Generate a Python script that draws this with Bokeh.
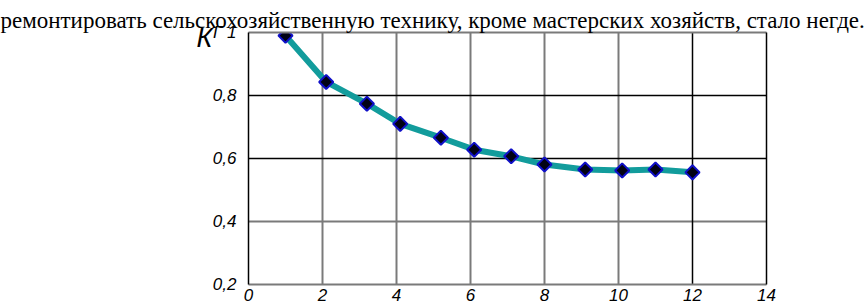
import math
from bokeh.plotting import figure
from bokeh.models import Range1d, FixedTicker, Grid, LinearAxis, Title
from bokeh.embed import file_html
from bokeh.resources import INLINE

# ---- data ----
sentence = "ремонтировать сельскохозяйственную технику, кроме мастерских хозяйств, стало негде."
y_symbol = "К"
y_subscript = "Г"
y_symbol_pos = 0.984
x_vals = [1, 2.1, 3.2, 4.1, 5.2, 6.1, 7.1, 8, 9.1, 10.1, 11, 12]
k_vals = [0.99, 0.843, 0.774, 0.71, 0.666, 0.628, 0.607, 0.581, 0.565, 0.562, 0.565, 0.556]
x_ticks = [0, 2, 4, 6, 8, 10, 12, 14]
x_tick_labels = ["0", "2", "4", "6", "8", "10", "12", "14"]
y_ticks = [0.2, 0.4, 0.6, 0.8, 1.0]
y_tick_labels = ["0,2", "0,4", "0,6", "0,8", "1"]
x_grid_gray = [2, 4, 6, 8, 10]
x_grid_black = [12]
y_grid_gray = [0.4]
y_grid_black = [0.6, 0.8]

p = figure(width=867, height=303, output_backend="svg", toolbar_location=None,
           x_range=Range1d(0, 14), y_range=Range1d(0.2, 1.0),
           min_border_left=248, min_border_right=101, min_border_top=32, min_border_bottom=0)
p.outline_line_color = None
p.background_fill_color = "white"
p.border_fill_color = "white"

p.title = Title(text=sentence, align="left", offset=-248, standoff=0,
                text_font="Liberation Serif", text_font_size="23px",
                text_font_style="normal", text_color="black")

# axes
p.xaxis.ticker = FixedTicker(ticks=x_ticks)
p.xaxis.major_label_overrides = {t: s for t, s in zip(x_ticks, x_tick_labels)}
p.yaxis.ticker = FixedTicker(ticks=y_ticks)
y_over = {t: s for t, s in zip(y_ticks, y_tick_labels)}
y_over[y_ticks[-1]] = y_subscript + " " + y_tick_labels[-1]
p.yaxis.major_label_overrides = y_over
for ax in (p.xaxis[0], p.yaxis[0]):
    ax.major_tick_out = 0
    ax.major_tick_in = 0
    ax.minor_tick_out = 0
    ax.minor_tick_in = 0
    ax.major_label_text_font = "Liberation Sans"
    ax.major_label_text_font_style = "italic"
    ax.major_label_text_font_size = "17px"
    ax.major_label_text_color = "black"
p.xaxis.axis_line_color = "#7a7a7a"
p.xaxis.axis_line_width = 2
p.xaxis.major_label_standoff = 4
p.yaxis.axis_line_color = "black"
p.yaxis.axis_line_width = 1.5
p.yaxis.major_label_standoff = 12

# second left axis carrying the symbol K
k_ax = LinearAxis(ticker=FixedTicker(ticks=[y_symbol_pos]),
                  major_label_overrides={y_symbol_pos: y_symbol},
                  axis_line_color=None, major_tick_out=0, major_tick_in=0,
                  minor_tick_out=0, minor_tick_in=0, major_label_standoff=-3,
                  major_label_text_font="Liberation Sans", major_label_text_font_style="italic",
                  major_label_text_font_size="27px", major_label_text_color="black")
p.add_layout(k_ax, "left")

top_ax = LinearAxis(ticker=FixedTicker(ticks=[]), axis_line_color="#7a7a7a", axis_line_width=2,
                    major_tick_out=0, minor_tick_out=0, major_label_text_font_size="0px")
right_ax = LinearAxis(ticker=FixedTicker(ticks=[]), axis_line_color="black", axis_line_width=1.5,
                      major_tick_out=0, minor_tick_out=0, major_label_text_font_size="0px")
p.add_layout(top_ax, "above")
p.add_layout(right_ax, "right")

# grids
p.xgrid.ticker = FixedTicker(ticks=x_grid_gray)
p.xgrid.grid_line_color = "#7a7a7a"
p.xgrid.grid_line_width = 2
p.ygrid.ticker = FixedTicker(ticks=y_grid_gray)
p.ygrid.grid_line_color = "#7a7a7a"
p.ygrid.grid_line_width = 2
p.add_layout(Grid(dimension=0, ticker=FixedTicker(ticks=x_grid_black),
                  grid_line_color="black", grid_line_width=1.5))
p.add_layout(Grid(dimension=1, ticker=FixedTicker(ticks=y_grid_black),
                  grid_line_color="black", grid_line_width=1.5))

# data
p.line(x_vals, k_vals, line_color="#129c9c", line_width=6)
p.scatter(x_vals, k_vals, marker="square", angle=math.pi / 4, size=10,
          fill_color="#020214", line_color="#1010c8", line_width=2)

open("out.html", "w").write(file_html(p, INLINE))
